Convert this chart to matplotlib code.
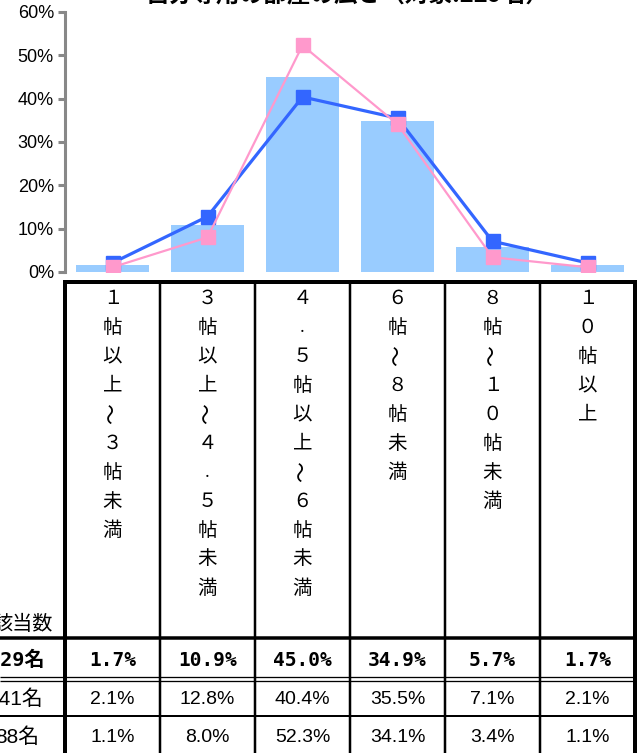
import matplotlib.pyplot as plt
import numpy as np

# data
categories = ['１帖以上～３帖未満', '３帖以上～４．５帖未満', '４．５帖以上～６帖未満',
              '６帖～８帖未満', '８帖～１０帖未満', '１０帖以上']
total = [1.7, 10.9, 45.0, 34.9, 5.7, 1.7]
group_a = [2.1, 12.8, 40.4, 35.5, 7.1, 2.1]
group_b = [1.1, 8.0, 52.3, 34.1, 3.4, 1.1]
row_labels = ['229名', '141名', '88名']
title = '自分専用の部屋の広さ（対象:229名）'

jp = ['Noto Sans CJK JP', 'DejaVu Sans']
narrow = ['Liberation Sans', 'Noto Sans CJK JP']
mono = ['DejaVu Sans Mono', 'Noto Sans CJK JP']

W, H = 642, 753
fig = plt.figure(figsize=(W / 100, H / 100), dpi=100)

# table frame in pixels
L, R = 65, 635
col_w = (R - L) / 6
top_chart, base_chart = 12, 272

ax = fig.add_axes([L / W, 1 - base_chart / H, (R - L) / W, (base_chart - top_chart) / H])
x = np.arange(len(categories))
ax.bar(x, total, width=0.76, color='#99CCFF', zorder=1)
ax.plot(x, group_a, color='#3366FF', lw=2.3, marker='s', ms=10, zorder=3)
ax.plot(x, group_b, color='#FF99CC', lw=1.6, marker='s', ms=10, zorder=4)
ax.set_xlim(-0.5, 5.5)
ax.set_ylim(0, 60)
ax.set_yticks(range(0, 61, 10))
ax.set_yticklabels([f'{v}%' for v in range(0, 61, 10)], family=narrow, fontsize=13)
ax.set_xticks([])
for s in ['top', 'right', 'bottom']:
    ax.spines[s].set_visible(False)
ax.spines['left'].set_color('#888888')
ax.spines['left'].set_linewidth(2.2)
ax.tick_params(axis='y', length=5, width=2.2, color='#888888', pad=3)
ax.patch.set_alpha(0)

fig.text(348 / W, 1 - 7 / H, title, ha='center', va='bottom', fontsize=17,
         fontweight='bold', family=jp)

# table
tb = fig.add_axes([0, 0, 1, 1], zorder=-1)
tb.set_xlim(0, W)
tb.set_ylim(H, 0)
tb.axis('off')

lw = 0.72
tb.plot([L - 2, R + 2], [281.5, 281.5], color='black', lw=4 * lw, solid_capstyle='butt')
tb.plot([0, R], [638, 638], color='black', lw=3.5 * lw, solid_capstyle='butt')
tb.plot([0, R], [677, 677], color='black', lw=1.3 * lw, solid_capstyle='butt')
tb.plot([0, R], [680.5, 680.5], color='black', lw=1.3 * lw, solid_capstyle='butt')
tb.plot([0, R], [716, 716], color='black', lw=2 * lw, solid_capstyle='butt')
tb.plot([L, L], [280, H], color='black', lw=4 * lw, solid_capstyle='butt')
tb.plot([R, R], [280, H], color='black', lw=4 * lw, solid_capstyle='butt')
for i in range(1, 6):
    cx = L + i * col_w
    tb.plot([cx, cx], [281, H], color='black', lw=2.5 * lw, solid_capstyle='butt')

# vertical header labels
for i, lab in enumerate(categories):
    cx = L + (i + 0.5) * col_w
    for j, ch in enumerate(lab):
        cy = 298 + j * 29
        if ch == '～':
            tb.text(cx, cy, ch, ha='center', va='center', fontsize=15, family=jp, rotation=90)
        elif ch == '．':
            tb.text(cx, cy, '.', ha='center', va='center', fontsize=12, family=jp)
        else:
            tb.text(cx, cy, ch, ha='center', va='center', fontsize=14, family=jp)

tb.text(53, 625, '該当数', ha='right', va='center', fontsize=14.5, family=jp)

row_y = [660, 699, 737]
label_right = [45, 43, 39]
rows = [total, group_a, group_b]
for r, (lab, vals) in enumerate(zip(row_labels, rows)):
    if r == 0:
        tb.text(label_right[r], row_y[r], lab, ha='right', va='center', fontsize=14.5,
                fontweight='bold', family=mono)
    else:
        tb.text(label_right[r], row_y[r], lab, ha='right', va='center', fontsize=15,
                family=narrow)
    for i, v in enumerate(vals):
        cx = L + (i + 0.5) * col_w
        if r == 0:
            tb.text(cx, row_y[r], f'{v:.1f}%', ha='center', va='center', fontsize=14,
                    fontweight='bold', family=mono)
        else:
            tb.text(cx, row_y[r], f'{v:.1f}%', ha='center', va='center', fontsize=14,
                    family=narrow)

fig.savefig('out.png', dpi=100)
